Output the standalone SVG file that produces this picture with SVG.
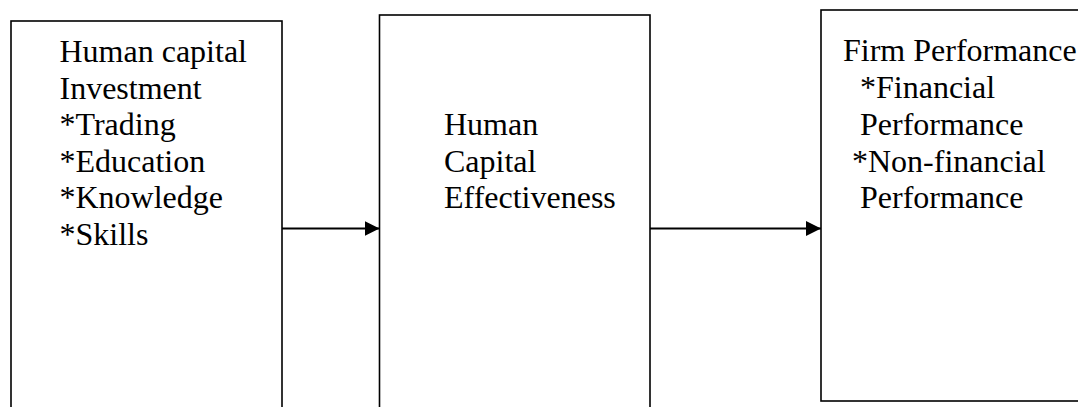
<svg xmlns="http://www.w3.org/2000/svg" width="1078" height="407" viewBox="0 0 1078 407">
<style>
.box{fill:#fff;stroke:#000;stroke-width:1.6}
.t{font-family:"Liberation Serif","Times New Roman",serif;font-size:32px;fill:#000}
.c{stroke:#000;stroke-width:2;fill:none}
</style>
<defs>
<marker id="ah" markerWidth="16" markerHeight="15" refX="15" refY="7.5" orient="auto" markerUnits="userSpaceOnUse">
<path d="M0,0 L15,7.5 L0,15 Z" fill="#000"/>
</marker>
</defs>
<rect width="1078" height="407" fill="#fff"/>
<g id="node-investment">
<rect class="box" x="11" y="21" width="271" height="400"/>
<text class="t" x="59.5" y="62">Human capital</text>
<text class="t" x="59.5" y="98.5">Investment</text>
<text class="t" x="59.5" y="135">*Trading</text>
<text class="t" x="59.5" y="171.5">*Education</text>
<text class="t" x="59.5" y="208">*Knowledge</text>
<text class="t" x="59.5" y="244.5">*Skills</text>
</g>
<g id="node-effectiveness">
<rect class="box" x="379.5" y="15" width="270.5" height="410"/>
<text class="t" x="444" y="135">Human</text>
<text class="t" x="444" y="171.5">Capital</text>
<text class="t" x="444" y="208">Effectiveness</text>
</g>
<g id="node-performance">
<rect class="box" x="821" y="10" width="270" height="391"/>
<text class="t" x="843" y="61">Firm Performance</text>
<text class="t" x="860" y="98">*Financial</text>
<text class="t" x="860" y="135">Performance</text>
<text class="t" x="852" y="171.5">*Non-financial</text>
<text class="t" x="860" y="208">Performance</text>
</g>
<g id="connectors">
<line class="c" x1="282" y1="228.5" x2="379.5" y2="228.5" marker-end="url(#ah)"/>
<line class="c" x1="650" y1="228.5" x2="821" y2="228.5" marker-end="url(#ah)"/>
</g>
</svg>
